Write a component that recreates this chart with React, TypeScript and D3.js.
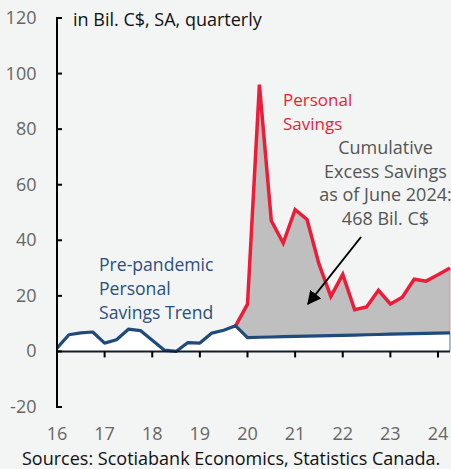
import React, { useEffect, useRef } from 'react';
import * as d3 from 'd3';

// quarterly, 2016Q1 .. 2024Q2
const quarters: string[] = [
  '2016Q1', '2016Q2', '2016Q3', '2016Q4',
  '2017Q1', '2017Q2', '2017Q3', '2017Q4',
  '2018Q1', '2018Q2', '2018Q3', '2018Q4',
  '2019Q1', '2019Q2', '2019Q3', '2019Q4',
  '2020Q1', '2020Q2', '2020Q3', '2020Q4',
  '2021Q1', '2021Q2', '2021Q3', '2021Q4',
  '2022Q1', '2022Q2', '2022Q3', '2022Q4',
  '2023Q1', '2023Q2', '2023Q3', '2023Q4',
  '2024Q1', '2024Q2',
];

// actual personal savings up to 2019Q4, then the pre-pandemic trend
const trendSavings: number[] = [
  1.2, 6.0, 6.7, 7.0,
  3.0, 4.2, 8.0, 7.5,
  4.0, 0.5, 0.0, 3.2,
  3.0, 6.6, 7.6, 9.2,
  5.0, 5.1, 5.2, 5.3,
  5.4, 5.5, 5.6, 5.7,
  5.8, 5.9, 6.0, 6.1,
  6.2, 6.3, 6.4, 6.5,
  6.6, 6.7,
];

// personal savings from 2019Q4 on
const pandemicStart = 15;
const personalSavings: number[] = [
  9.2,
  17, 96, 47, 39,
  51, 47.5, 31.5, 19.8,
  27.7, 15, 16, 22,
  17.1, 19.5, 26, 25.3,
  27.6, 30,
];

const yTicks: number[] = [-20, 0, 20, 40, 60, 80, 100, 120];
const xYears: number[] = [2016, 2017, 2018, 2019, 2020, 2021, 2022, 2023, 2024];

const W = 451;
const H = 469;
const FONT = "'Open Sans', 'Noto Sans', sans-serif";

const toTime = (q: string) => +q.slice(0, 4) + (+q.slice(5) - 1) / 4;

const App: React.FC = () => {
  const ref = useRef<SVGSVGElement | null>(null);

  useEffect(() => {
    if (!ref.current) return;
    const svg = d3.select(ref.current);
    svg.selectAll('*').remove();

    const x = d3.scaleLinear().domain([2016, 2024]).range([57, 438]);
    const y = d3.scaleLinear().domain([-20, 120]).range([407, 18]);

    svg.append('rect').attr('width', W).attr('height', H).attr('fill', '#f3f4f4');

    const excess = personalSavings.map((v, i) => ({
      t: toTime(quarters[pandemicStart + i]),
      top: v,
      base: trendSavings[pandemicStart + i],
    }));
    const trend = trendSavings.map((v, i) => ({ t: toTime(quarters[i]), v }));

    // grey excess savings area
    svg.append('path')
      .datum(excess)
      .attr('fill', '#bfbfbf')
      .attr('d', d3.area<any>().x(d => x(d.t)).y0(d => y(d.base)).y1(d => y(d.top)) as any);

    // white area under trend
    svg.append('path')
      .datum(trend)
      .attr('fill', '#ffffff')
      .attr('d', d3.area<any>().x(d => x(d.t)).y0(y(0)).y1(d => y(d.v)) as any);

    const last = excess[excess.length - 1];
    svg.append('line')
      .attr('x1', x(last.t)).attr('x2', x(last.t))
      .attr('y1', y(last.top)).attr('y2', y(last.base))
      .attr('stroke', '#ee8a96').attr('stroke-width', 1);
    svg.append('line')
      .attr('x1', x(last.t)).attr('x2', x(last.t))
      .attr('y1', y(last.base)).attr('y2', y(0))
      .attr('stroke', '#5d7aa0').attr('stroke-width', 1);

    // red line
    svg.append('path')
      .datum(excess)
      .attr('fill', 'none')
      .attr('stroke', '#ee1c38')
      .attr('stroke-width', 3.5)
      .attr('stroke-linejoin', 'miter')
      .attr('d', d3.line<any>().x(d => x(d.t)).y(d => y(d.top)) as any);

    // blue line
    svg.append('path')
      .datum(trend)
      .attr('fill', 'none')
      .attr('stroke', '#1f4a7c')
      .attr('stroke-width', 3.2)
      .attr('stroke-linejoin', 'round')
      .attr('d', d3.line<any>().x(d => x(d.t)).y(d => y(d.v)) as any);

    // zero line
    svg.append('line')
      .attr('x1', x(2016)).attr('x2', x(toTime('2024Q2')))
      .attr('y1', y(0)).attr('y2', y(0))
      .attr('stroke', '#141c2c').attr('stroke-width', 2);

    // x ticks
    svg.selectAll('.xt')
      .data(xYears.slice(1))
      .enter()
      .append('line')
      .attr('x1', d => x(d)).attr('x2', d => x(d))
      .attr('y1', y(0)).attr('y2', y(0) + 6)
      .attr('stroke', '#000').attr('stroke-width', 2);

    svg.selectAll('.xl')
      .data(xYears)
      .enter()
      .append('text')
      .attr('x', d => x(d))
      .attr('y', 440)
      .attr('text-anchor', 'middle')
      .attr('font-family', FONT)
      .attr('font-size', 18)
      .attr('fill', '#666')
      .text(d => String(d).slice(2));

    // y axis
    svg.append('line')
      .attr('x1', 57).attr('x2', 57)
      .attr('y1', y(120)).attr('y2', y(-20))
      .attr('stroke', '#000').attr('stroke-width', 2);
    svg.selectAll('.yt')
      .data(yTicks)
      .enter()
      .append('line')
      .attr('x1', 56).attr('x2', 62)
      .attr('y1', d => y(d)).attr('y2', d => y(d))
      .attr('stroke', '#000').attr('stroke-width', 2);
    svg.selectAll('.yl')
      .data(yTicks)
      .enter()
      .append('text')
      .attr('x', 36.5)
      .attr('y', d => y(d) + 6)
      .attr('text-anchor', 'end')
      .attr('font-family', FONT)
      .attr('font-size', 18)
      .attr('fill', '#666')
      .text(d => String(d));

    const addText = (lines: string[], tx: number, ty: number, color: string, anchor: string, size = 18, gap = 23.7) => {
      const t = svg.append('text')
        .attr('font-family', FONT)
        .attr('font-size', size)
        .attr('fill', color)
        .attr('text-anchor', anchor);
      lines.forEach((l, i) => {
        t.append('tspan').attr('x', tx).attr('y', ty + i * gap).text(l);
      });
    };

    addText(['in Bil. C$, SA, quarterly'], 73, 25.5, '#111', 'start', 18);
    addText(['Personal', 'Savings'], 283, 106, '#ee1c38', 'start', 17, 23.5);
    addText(['Cumulative', 'Excess Savings', 'as of June 2024:', '468 Bil. C$'], 385.5, 154, '#555', 'middle', 18, 23.7);
    addText(['Pre-pandemic', 'Personal', 'Savings Trend'], 99, 271, '#2a4f80', 'start', 17.6, 24);
    addText(['Sources: Scotiabank Economics, Statistics Canada.'], 22, 465, '#111', 'start', 18);

    // arrow
    const defs = svg.append('defs');
    defs.append('marker')
      .attr('id', 'arr')
      .attr('viewBox', '0 0 10 10')
      .attr('refX', 9).attr('refY', 5)
      .attr('markerWidth', 7).attr('markerHeight', 7)
      .attr('markerUnits', 'strokeWidth')
      .attr('orient', 'auto')
      .append('path').attr('d', 'M0,0L10,5L0,10Z').attr('fill', '#000');
    svg.append('line')
      .attr('x1', 361).attr('y1', 237)
      .attr('x2', 308).attr('y2', 304)
      .attr('stroke', '#000').attr('stroke-width', 2)
      .attr('marker-end', 'url(#arr)');
  }, []);

  return (
    <div style={{ position: 'fixed', left: 0, top: 0, width: W, height: H }}>
      <svg ref={ref} width={W} height={H} style={{ display: 'block' }}></svg>
    </div>
  );
};

export default App;
